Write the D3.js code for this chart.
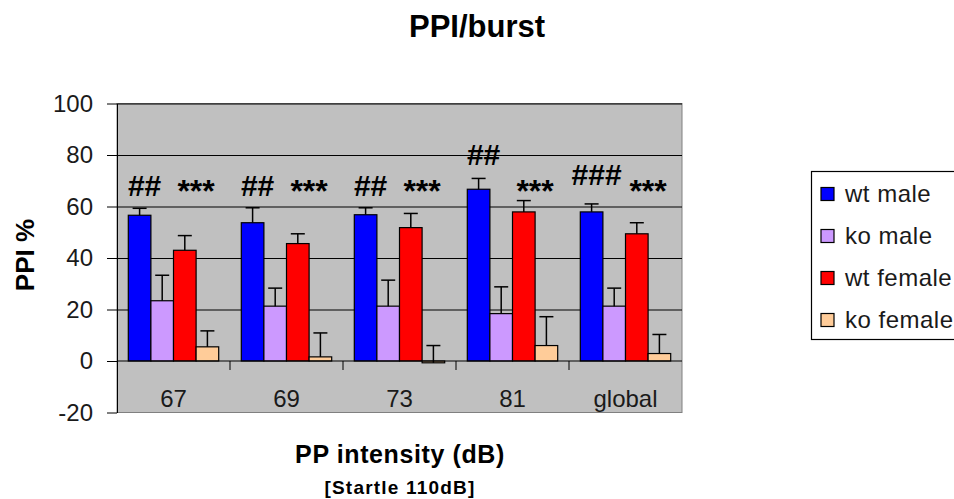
<!DOCTYPE html>
<meta charset="utf-8">
<style>
body { margin: 0; background: #fff; }
text { font-family: "Liberation Sans", Arial, sans-serif; fill: #1a1a1a; }
.bold { font-weight: bold; fill: #000; }
</style>
<svg width="954" height="499"></svg>
<script src="https://d3js.org/d3.v7.min.js"></script>
<script>

var categories = ["67", "69", "73", "81", "global"];
var seriesNames = ["wt male", "ko male", "wt female", "ko female"];
var seriesColors = ["#0000ff", "#cc99ff", "#ff0000", "#ffcc99"];

var wtMale = [56.6, 53.7, 56.8, 66.7, 57.9],
    wtMaleErr = [2.7, 5.8, 2.7, 4.2, 3.1];
var koMale = [23.4, 21.3, 21.3, 18.4, 21.3],
    koMaleErr = [9.9, 7.0, 10.1, 10.4, 7.0];
var wtFemale = [43.0, 45.6, 51.8, 57.9, 49.4],
    wtFemaleErr = [5.7, 3.8, 5.5, 4.4, 4.3];
var koFemale = [5.5, 1.6, -0.7, 6.0, 2.9],
    koFemaleErr = [6.2, 9.3, 6.7, 11.2, 7.4];

// significance marks (vs wt male and vs wt female), height in PPI %
var hashLabels = ["##", "##", "##", "##", "###"],
    hashLevel = [68.3, 68.3, 68.3, 80.2, 72.4];
var starLabels = ["***", "***", "***", "***", "***"],
    starLevel = [68.9, 68.9, 68.9, 68.9, 68.9];

var yTicks = [-20, 0, 20, 40, 60, 80, 100];

var values = [wtMale, koMale, wtFemale, koFemale],
    errors = [wtMaleErr, koMaleErr, wtFemaleErr, koFemaleErr];

var rows = [];
categories.forEach(function(c, i) {
  seriesNames.forEach(function(s, j) {
    rows.push({cat: c, series: s, idx: j, value: values[j][i], err: errors[j][i]});
  });
});

var svg = d3.select("svg");
var plot = {left: 117, right: 682, top: 103.5, bottom: 412.5};

var x0 = d3.scaleBand().domain(categories).range([plot.left, plot.right]).paddingInner(0).paddingOuter(0);
var x1 = d3.scaleBand().domain(seriesNames).range([0, x0.bandwidth()]).paddingInner(0).paddingOuter(0.5);
var y = d3.scaleLinear().domain([-20, 100]).range([plot.bottom, plot.top]);
var color = d3.scaleOrdinal().domain(seriesNames).range(seriesColors);

// plot area
svg.append("rect")
    .attr("x", plot.left).attr("y", plot.top)
    .attr("width", plot.right - plot.left).attr("height", plot.bottom - plot.top)
    .attr("fill", "#c0c0c0").attr("stroke", "#808080");

// gridlines
svg.append("g")
    .attr("transform", "translate(" + plot.left + ",0)")
    .call(d3.axisLeft(y).tickValues([20, 40, 60, 80, 100]).tickSize(-(plot.right - plot.left)).tickFormat(""))
    .call(function(g) { g.select(".domain").remove(); })
    .selectAll("line").attr("stroke", "#000");

// y axis
var yAxis = svg.append("g")
    .attr("transform", "translate(" + plot.left + ",0)")
    .call(d3.axisLeft(y).tickValues(yTicks).tickSize(10).tickSizeOuter(0).tickPadding(14)
      .tickFormat(function(d) { return String(d); }));
yAxis.select(".domain").attr("stroke", "#000");
yAxis.selectAll("line").attr("stroke", "#000");
yAxis.selectAll("text")
    .style("font-size", "24px")
    .style("font-family", "'Liberation Sans', Arial, sans-serif")
    .attr("fill", "#1a1a1a");

// bars
var bars = svg.append("g");
bars.selectAll("rect")
  .data(rows)
  .enter().append("rect")
    .attr("x", function(d) { return x0(d.cat) + x1(d.series); })
    .attr("y", function(d) { return y(Math.max(0, d.value)); })
    .attr("width", x1.bandwidth())
    .attr("height", function(d) { return Math.abs(y(d.value) - y(0)); })
    .attr("fill", function(d) { return color(d.series); })
    .attr("stroke", "#000")
    .attr("stroke-width", 1.2);

// error bars (upper only)
var eb = svg.append("g").attr("stroke", "#000").attr("stroke-width", 1.5);
rows.forEach(function(d) {
  var cx = x0(d.cat) + x1(d.series) + x1.bandwidth() / 2;
  eb.append("line")
      .attr("x1", cx).attr("x2", cx)
      .attr("y1", y(d.value)).attr("y2", y(d.value + d.err));
  eb.append("line")
      .attr("x1", cx - 7).attr("x2", cx + 7)
      .attr("y1", y(d.value + d.err)).attr("y2", y(d.value + d.err));
});

// x axis on zero line
var xAxis = svg.append("g")
    .attr("transform", "translate(0," + y(0) + ")");
xAxis.append("line")
    .attr("x1", plot.left).attr("x2", plot.right)
    .attr("stroke", "#000").attr("stroke-width", 1.2);
xAxis.selectAll(".tk")
  .data(categories.slice(1))
  .enter().append("line")
    .attr("x1", function(d) { return x0(d); })
    .attr("x2", function(d) { return x0(d); })
    .attr("y1", 0).attr("y2", 9)
    .attr("stroke", "#000");
svg.append("g").selectAll("text")
  .data(categories)
  .enter().append("text")
    .attr("x", function(d) { return x0(d) + x0.bandwidth() / 2; })
    .attr("y", 407)
    .attr("text-anchor", "middle")
    .style("font-size", "24px")
    .text(function(d) { return d; });

// significance marks
var marks = svg.append("g");
categories.forEach(function(c, i) {
  marks.append("text")
      .attr("class", "bold")
      .attr("x", x0(c) + x1(seriesNames[0]) + x1.bandwidth() / 2 + 5)
      .attr("y", y(hashLevel[i]))
      .attr("dy", "0.36em")
      .attr("text-anchor", "middle")
      .style("font-size", "30px")
      .text(hashLabels[i]);
  marks.append("text")
      .attr("class", "bold")
      .attr("x", x0(c) + x1(seriesNames[3]))
      .attr("y", y(starLevel[i]))
      .attr("dy", "0.58em")
      .attr("text-anchor", "middle")
      .style("font-size", "32px")
      .text(starLabels[i]);
});

// titles
svg.append("text").attr("class", "bold")
    .attr("x", 477).attr("y", 37)
    .attr("text-anchor", "middle")
    .style("font-size", "31px")
    .text("PPI/burst");

svg.append("text").attr("class", "bold")
    .attr("transform", "translate(34,255) rotate(-90)")
    .attr("text-anchor", "middle")
    .style("font-size", "26px")
    .text("PPI %");

svg.append("text").attr("class", "bold")
    .attr("x", 400).attr("y", 463)
    .attr("text-anchor", "middle")
    .style("font-size", "25px")
    .style("letter-spacing", "0.6px")
    .text("PP intensity (dB)");

svg.append("text").attr("class", "bold")
    .attr("x", 400).attr("y", 494)
    .attr("text-anchor", "middle")
    .style("font-size", "19px")
    .style("letter-spacing", "1.2px")
    .text("[Startle 110dB]");

// legend
var legend = svg.append("g");
legend.append("rect")
    .attr("x", 811.5).attr("y", 171.5)
    .attr("width", 180).attr("height", 168)
    .attr("fill", "#fff").attr("stroke", "#000").attr("stroke-width", 1.2);
var item = legend.selectAll(".item")
  .data(seriesNames)
  .enter().append("g")
    .attr("transform", function(d, i) { return "translate(821," + (194 + i * 42) + ")"; });
item.append("rect")
    .attr("x", 0).attr("y", -6.5)
    .attr("width", 13).attr("height", 13)
    .attr("fill", function(d) { return color(d); })
    .attr("stroke", "#000").attr("stroke-width", 1.2);
item.append("text")
    .attr("x", 24).attr("dy", "0.35em")
    .style("font-size", "24px")
    .style("letter-spacing", "0.5px")
    .text(function(d) { return d; });

</script>
